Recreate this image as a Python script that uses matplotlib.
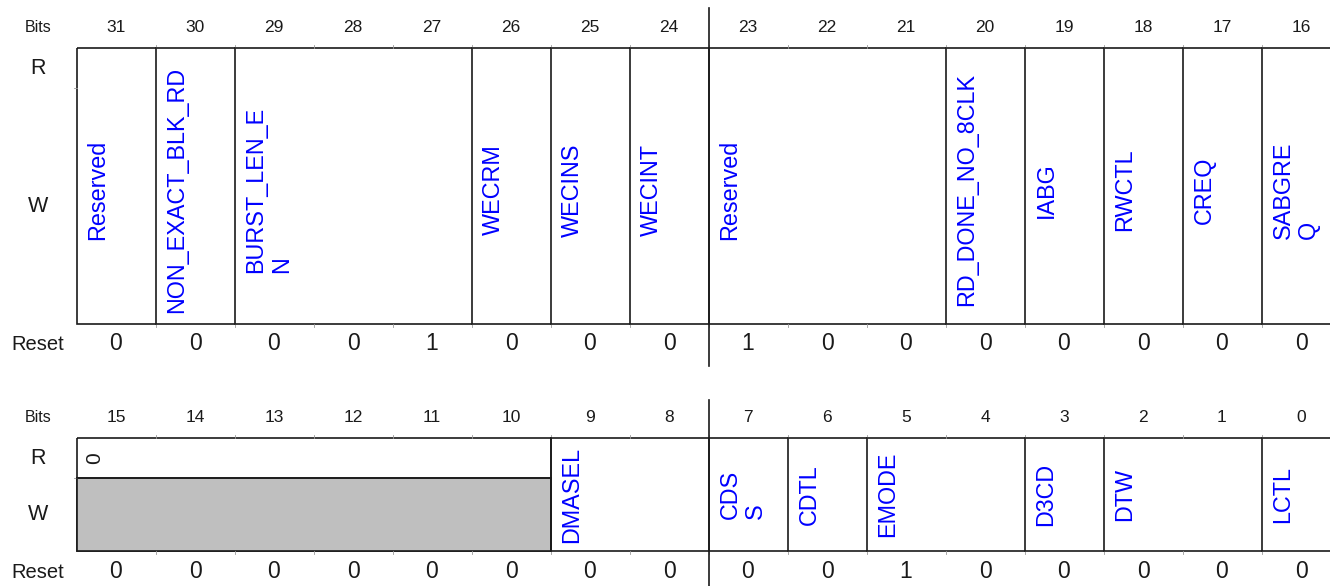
import matplotlib.pyplot as plt
from matplotlib.patches import Rectangle

plt.rcParams["font.family"] = ["Liberation Sans", "DejaVu Sans"]

INK = "#1A1A1A"
BLUE = "#0000FF"
GRAY = "#BFBFBF"
TICK = "#9A9A9A"

# register data (top = bits 31..16, bottom = bits 15..0)
top_bits = list(range(31, 15, -1))
top_names = ["Reserved", "NON_EXACT_BLK_RD", "BURST_LEN_E\nN", "WECRM", "WECINS",
             "WECINT", "Reserved", "RD_DONE_NO_8CLK", "IABG", "RWCTL", "CREQ",
             "SABGRE\nQ"]
top_msb = [31, 30, 29, 26, 25, 24, 23, 20, 19, 18, 17, 16]
top_lsb = [31, 30, 27, 26, 25, 24, 21, 20, 19, 18, 17, 16]
top_reset = [0, 0, 0, 0, 1, 0, 0, 0, 1, 0, 0, 0, 0, 0, 0, 0]

bot_bits = list(range(15, -1, -1))
bot_names = ["DMASEL", "CDS\nS", "CDTL", "EMODE", "D3CD", "DTW", "LCTL"]
bot_msb = [9, 7, 6, 5, 3, 2, 0]
bot_lsb = [8, 7, 6, 4, 3, 1, 0]
bot_reset = [0, 0, 0, 0, 0, 0, 0, 0, 0, 0, 1, 0, 0, 0, 0, 0]
bot_rsvd = (15, 10)   # read as 0, not writable

# layout (pixels)
X0 = 76.5
BW = 79.0
LABEL_X = 38


def draw_register(ax, bits, msb, lsb, names, reset, y_bits, y_top, y_rw, y_bot,
                  y_reset, y_split, name_dy=0, rsvd=None):
    hi = bits[0]
    xl = lambda b: X0 + (hi - b) * BW
    xr = lambda b: X0 + (hi - b + 1) * BW
    right = xr(bits[-1])

    ax.text(LABEL_X, y_bits, "Bits", fontsize=11.5, ha="center", va="center", color=INK)
    for b in bits:
        ax.text((xl(b) + xr(b)) / 2, y_bits, str(b), fontsize=12.5,
                ha="center", va="center", color=INK)
    ax.text(LABEL_X, (y_top + y_rw) / 2, "R", fontsize=15.5, ha="center", va="center", color=INK)
    ax.text(LABEL_X, (y_rw + y_bot) / 2, "W", fontsize=15.5, ha="center", va="center", color=INK)
    ax.text(LABEL_X, y_reset, "Reset", fontsize=14.5, ha="center", va="center", color=INK)
    for b, v in zip(bits, reset):
        ax.text((xl(b) + xr(b)) / 2, y_reset, str(v), fontsize=16.5,
                ha="center", va="center", color=INK)

    # small boundary ticks on the box edges
    for b in bits[1:]:
        x = xl(b)
        ax.plot([x, x], [y_top - 3, y_top], color=TICK, lw=0.6)
        ax.plot([x, x], [y_bot, y_bot + 3], color=TICK, lw=0.6)
    ax.plot([X0 - 3, X0], [y_rw, y_rw], color=TICK, lw=0.6)

    # outer box
    ax.add_patch(Rectangle((X0, y_top), right - X0, y_bot - y_top,
                           fill=False, ec=INK, lw=1.2))

    if rsvd is not None:
        a, c = rsvd
        ax.add_patch(Rectangle((xl(a), y_rw), xr(c) - xl(a), y_bot - y_rw,
                               fc=GRAY, ec=INK, lw=1.2))
        ax.plot([xl(a), xr(c)], [y_rw, y_rw], color=INK, lw=1.2)
        ax.plot([xr(c), xr(c)], [y_top, y_bot], color=INK, lw=1.2)
        ax.text(xl(a) + 9, (y_top + y_rw) / 2, "0", fontsize=15, rotation=90,
                ha="left", va="center", color=INK)

    for name, m, l in zip(names, msb, lsb):
        if m != hi:
            ax.plot([xl(m), xl(m)], [y_top, y_bot], color=INK, lw=1.2)
        ax.text(xl(m) + 10, (y_top + y_bot) / 2 + name_dy, name, fontsize=16.8,
                rotation=90, ha="left", va="center", color=BLUE,
                linespacing=1.15)

    # long split line in the middle of the register
    xs = xl(y_split[0])
    ax.plot([xs, xs], [y_split[1], y_split[2]], color=INK, lw=1.2)


fig = plt.figure(figsize=(13.3, 5.86), dpi=100)
ax = fig.add_axes([0, 0, 1, 1])
ax.set_xlim(0, 1330)
ax.set_ylim(586, 0)
ax.axis("off")

draw_register(ax, top_bits, top_msb, top_lsb, top_names, top_reset,
              y_bits=27, y_top=48, y_rw=88, y_bot=324, y_reset=344,
              y_split=(23, 8, 366), name_dy=4)
draw_register(ax, bot_bits, bot_msb, bot_lsb, bot_names, bot_reset,
              y_bits=417, y_top=438, y_rw=478, y_bot=551, y_reset=572,
              y_split=(7, 400, 586), name_dy=0, rsvd=bot_rsvd)

fig.savefig("out.png", dpi=100)
